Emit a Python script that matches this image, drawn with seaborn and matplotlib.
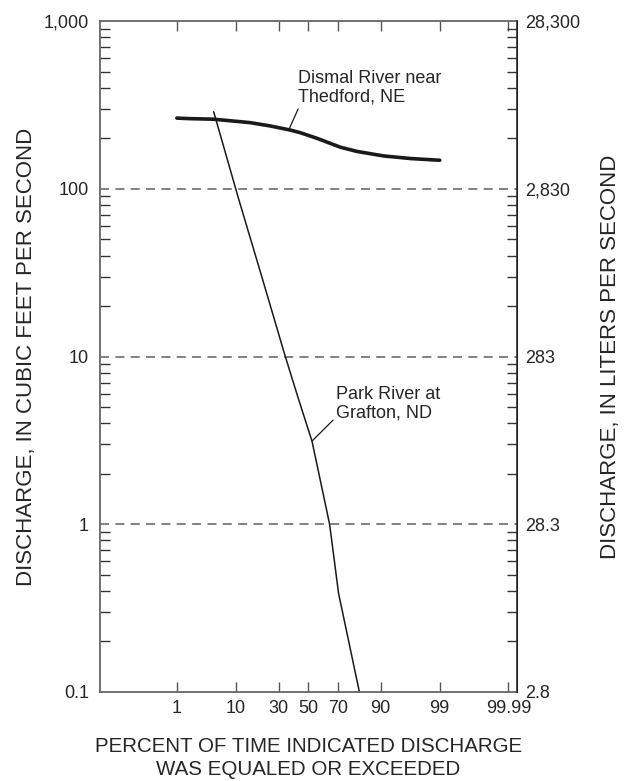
import matplotlib
matplotlib.use('Agg')
import matplotlib.pyplot as plt
import numpy as np
import pandas as pd
import seaborn as sns
from statistics import NormalDist
from matplotlib.ticker import FixedLocator, NullFormatter

# --------------------
# data
# --------------------
dismal_pct = [1, 1.8, 4.7, 15.2, 25, 37.5, 44.4, 56.1, 71.5, 80.6, 90.9, 96.5, 99]
dismal_q = [264, 262, 260, 248, 237, 224, 216, 200, 177, 167, 157, 151.5, 148]

park_pct = [4.7, 10.8, 19.8, 34.2, 43.2, 52.6, 58.4, 64.7, 70.4, 81.7]
park_q = [288, 88, 32, 10.0, 5.55, 3.13, 1.83, 1.0, 0.387, 0.1]

x_ticks = [1, 10, 30, 50, 70, 90, 99, 99.98]
x_labels = ['1', '10', '30', '50', '70', '90', '99', '99.99']
y_ticks = [0.1, 1, 10, 100, 1000]
y_labels_cfs = ['0.1', '1', '10', '100', '1,000']
y_labels_lps = ['2.8', '28.3', '283', '2,830', '28,300']

dismal = pd.DataFrame({'pct': dismal_pct, 'q': dismal_q})
park = pd.DataFrame({'pct': park_pct, 'q': park_q})

# normal probability scale for the x axis
nd = NormalDist()
_ppf = np.vectorize(lambda p: nd.inv_cdf(min(max(p / 100.0, 1e-12), 1 - 1e-12)), otypes=[float])
_cdf = np.vectorize(lambda z: nd.cdf(z) * 100.0, otypes=[float])

def prob_fwd(p):
  return _ppf(np.asarray(p, dtype=float))

def prob_inv(z):
  return _cdf(np.asarray(z, dtype=float))

sns.set_style('ticks')
plt.rcParams['font.family'] = ['Liberation Sans', 'DejaVu Sans']
plt.rcParams['font.size'] = 13

fig = plt.figure(figsize=(6.26, 7.81), dpi=100)
ax = fig.add_axes([0.16, 0.114, 0.666, 0.859])

ink = '#1a1a1a'
sns.lineplot(data=dismal, x='pct', y='q', ax=ax, color=ink, lw=2.6,
             sort=False, estimator=None)
sns.lineplot(data=park, x='pct', y='q', ax=ax, color=ink, lw=1.1,
             sort=False, estimator=None)

ax.set_xscale('function', functions=(prob_fwd, prob_inv))
ax.set_yscale('log')
ax.set_xlim(0.0115, 99.989)
ax.set_ylim(0.1, 1000)

for v in [1, 10, 100]:
  ax.axhline(v, color='#777777', lw=1.3, ls=(0, (5, 3.5)), zorder=0)

# x ticks
ax.xaxis.set_major_locator(FixedLocator(x_ticks))
ax.set_xticklabels(x_labels)
ax.xaxis.set_minor_locator(FixedLocator([]))
ax.tick_params(axis='x', which='major', direction='in', length=7, width=1,
               color='#555555', top=True, labelsize=13, pad=6)

# left y ticks
ax.yaxis.set_major_locator(FixedLocator(y_ticks))
ax.set_yticklabels(y_labels_cfs)
minor = [m * 10.0 ** e for e in range(-1, 3) for m in range(2, 10)]
ax.yaxis.set_minor_locator(FixedLocator(minor))
ax.yaxis.set_minor_formatter(NullFormatter())
ax.tick_params(axis='y', which='major', length=0, labelsize=13, pad=8)
ax.tick_params(axis='y', which='minor', direction='in', length=7, width=1,
               color='#333333')

for side in ['left', 'bottom', 'top']:
  ax.spines[side].set_color('#666666')
  ax.spines[side].set_linewidth(1.3)

# right axis in liters per second
ax2 = ax.twinx()
ax2.set_yscale('log')
ax2.set_ylim(0.1, 1000)
ax2.yaxis.set_major_locator(FixedLocator(y_ticks))
ax2.set_yticklabels(y_labels_lps)
ax2.yaxis.set_minor_locator(FixedLocator(minor))
ax2.yaxis.set_minor_formatter(NullFormatter())
ax2.tick_params(axis='y', which='major', length=0, labelsize=13, pad=6)
ax2.tick_params(axis='y', which='minor', direction='in', length=7, width=1,
                color='#333333')
ax2.spines['right'].set_color('#222222')
ax2.spines['right'].set_linewidth(1.1)
for side in ['left', 'bottom', 'top']:
  ax2.spines[side].set_visible(False)

ax.set_xlabel('PERCENT OF TIME INDICATED DISCHARGE\nWAS EQUALED OR EXCEEDED',
              fontsize=14.8, labelpad=14, linespacing=1.3)
ax.set_ylabel('DISCHARGE, IN CUBIC FEET PER SECOND', fontsize=16, labelpad=5)
ax2.set_ylabel('DISCHARGE, IN LITERS PER SECOND', fontsize=16, labelpad=14)

ax.annotate('Dismal River near\nThedford, NE', xy=(37.0, 230), xytext=(43.0, 399),
            ha='left', va='center', fontsize=13, linespacing=1.1,
            arrowprops=dict(arrowstyle='-', color=ink, lw=0.9,
                            shrinkA=0, shrinkB=0, relpos=(0.02, 0.1)))
ax.annotate('Park River at\nGrafton, ND', xy=(52.6, 3.13), xytext=(69.0, 5.25),
            ha='left', va='center', fontsize=13, linespacing=1.1,
            arrowprops=dict(arrowstyle='-', color=ink, lw=0.9,
                            shrinkA=0, shrinkB=0, relpos=(0.0, 0.12)))

plt.savefig('out.png', dpi=100)
